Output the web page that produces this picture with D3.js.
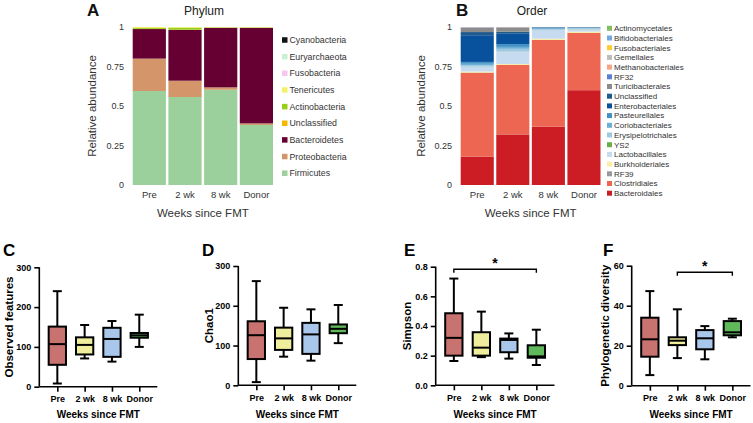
<!DOCTYPE html>
<html><head><meta charset="utf-8">
<script src="https://cdn.jsdelivr.net/npm/d3@7"></script>
<style>
html,body{margin:0;padding:0;background:#fff;}
svg text{font-family:"Liberation Sans",Arial,sans-serif;}
</style></head>
<body><svg id="c" width="753" height="423"></svg>
<script>
// ---------- DATA ----------
const groups = ["Pre", "2 wk", "8 wk", "Donor"];

// Phylum (bottom to top)
const phylumKeys = ["Firmicutes","Proteobacteria","Bacteroidetes","Unclassified","Actinobacteria","Tenericutes","Fusobacteria","Euryarchaeota","Cyanobacteria"];
const phylumColors = ["#9bcf9b","#d4956a","#660033","#f5b800","#9acd1a","#f2f26a","#f7c6ee","#c9f0d2","#111111"];
const phylumPre   = [0.595, 0.205, 0.187, 0.001, 0.006, 0.006, 0, 0, 0];
const phylum2wk   = [0.557, 0.103, 0.322, 0.001, 0.013, 0.004, 0, 0, 0];
const phylum8wk   = [0.603, 0.015, 0.377, 0.001, 0.002, 0.002, 0, 0, 0];
const phylumDonor = [0.380, 0.010, 0.605, 0.001, 0.001, 0.003, 0, 0, 0];

// Order (bottom to top)
const orderKeys = ["Bacteroidales","Clostridiales","RF39","Burkholderiales","Lactobacillales","YS2","Erysipelotrichales","Coriobacteriales","Pasteurellales","Enterobacteriales","Unclassified","Turicibacterales","RF32","Methanobacteriales","Gemellales","Fusobacteriales","Bifidobacteriales","Actinomycetales"];
const orderColors = ["#cc1c24","#ec6651","#999999","#fbeea0","#c6dbef","#6aae45","#9ecae1","#6baed6","#4292c6","#08519c","#1f5a8c","#8c8c8c","#5b7fd6","#f4a582","#bdbdbd","#ffcc33","#74a9e0","#7fbf5f"];
const orderPre   = [0.180, 0.530, 0.002, 0.006, 0.030, 0.001, 0.010, 0.008, 0.012, 0.169, 0.020, 0.028, 0.001, 0.001, 0.001, 0, 0.001, 0];
const order2wk   = [0.320, 0.440, 0.001, 0.005, 0.077, 0.001, 0.018, 0.012, 0.018, 0.065, 0.013, 0.027, 0.001, 0.001, 0.001, 0, 0, 0];
const order8wk   = [0.369, 0.549, 0.001, 0.007, 0.055, 0.001, 0.005, 0.003, 0.004, 0.003, 0.001, 0.001, 0, 0, 0, 0, 0, 0];
const orderDonor = [0.600, 0.362, 0.001, 0.008, 0.015, 0.001, 0.004, 0.003, 0.003, 0.001, 0.001, 0.001, 0, 0, 0, 0, 0, 0];

const stackTicks = [0, 0.25, 0.5, 0.75, 1];
const stackTickLabels = ["0", "0.25", "0.5", "0.75", "1"];

// Box plot stats: [min, q1, median, q3, max] per group
const observedFeatures = [[8,55,107,151,240],[71,81,105,124,155],[63,75,120,148,165],[100,123,129,135,181]];
const chao1 = [[8,66,126,161,262],[72,89,118,145,195],[62,79,128,157,191],[106,131,142,153,202]];
const simpson = [[0.164,0.20,0.32,0.486,0.72],[0.19,0.20,0.254,0.358,0.497],[0.18,0.223,0.306,0.315,0.35],[0.137,0.186,0.195,0.27,0.375]];
const phyloDiv = [[5.3,14.5,23.2,34,47.3],[13.8,20.3,22.5,24.2,38.2],[13.2,18.2,23.7,27.8,29.8],[24.2,25.2,26.7,32.3,33.5]];
const boxColors = ["#c87370","#eeee9c","#a9c7eb","#5fb85a"];
const ticksCount = [0,100,200,300];
const ticksChao = [0,100,200,300];
const ticksSimpson = [0,0.2,0.4,0.6,0.8];
const ticksPD = [0,20,40,60];

// ---------- DRAW ----------
const svg = d3.select("#c");

function stackPanel(o){
  const rows = groups.map((g,i)=>{const r={group:g}; o.keys.forEach((k,j)=>r[k]=o.vals[i][j]); return r;});
  const series = d3.stack().keys(o.keys)(rows);
  const x = d3.scaleBand().domain(groups).range(o.xr).paddingInner(0.07).paddingOuter(0);
  const y = d3.scaleLinear().domain([0,1]).range([185,27]);
  const col = d3.scaleOrdinal().domain(o.keys).range(o.colors);
  const g = svg.append("g");
  g.selectAll("g.s").data(series).join("g").attr("fill",d=>col(d.key))
    .selectAll("rect").data(d=>d).join("rect")
    .attr("x",d=>x(d.data.group)).attr("width",x.bandwidth())
    .attr("y",d=>y(d[1])).attr("height",d=>Math.max(0,y(d[0])-y(d[1])));
  // y tick labels
  const ya = d3.axisLeft(y).tickValues(stackTicks).tickSize(0).tickPadding(0)
     .tickFormat((d,i)=>stackTickLabels[i]);
  const yg = g.append("g").attr("transform",`translate(${o.yLabX},0)`).call(ya);
  yg.select(".domain").remove();
  yg.selectAll("text").attr("font-size",9).attr("fill","#333");
  // x tick labels
  const xa = d3.axisBottom(x).tickSize(0).tickPadding(0);
  const xg = g.append("g").attr("transform","translate(0,191)").call(xa);
  xg.select(".domain").remove();
  xg.selectAll("text").attr("font-size",9.5).attr("fill","#333");
  // titles
  g.append("text").attr("x",o.titleX).attr("y",15).attr("text-anchor","middle").attr("font-size",12).attr("fill","#222").text(o.title);
  g.append("text").attr("x",o.letterX).attr("y",16).attr("font-size",17).attr("font-weight","bold").attr("fill","#111").text(o.letter);
  g.append("text").attr("transform",`translate(${o.yTitleX},106) rotate(-90)`).attr("text-anchor","middle").attr("font-size",11.5).attr("fill","#333").text("Relative abundance");
  g.append("text").attr("x",(o.xr[0]+o.xr[1])/2).attr("y",217).attr("text-anchor","middle").attr("font-size",11.5).attr("fill","#333").text("Weeks since FMT");
  // legend (top to bottom is reversed stack order)
  const lk = o.keys.slice().reverse();
  const lg = g.append("g");
  lk.forEach((k,i)=>{
    const yy = o.legY0 + i*o.legStep;
    lg.append("rect").attr("x",o.legX).attr("y",yy-o.sq/2).attr("width",o.sq).attr("height",o.sq).attr("fill",col(k));
    lg.append("text").attr("x",o.legX+o.sq+2).attr("y",yy).attr("dy","0.35em").attr("font-size",o.legFont).attr("fill","#333").text(k);
  });
}

stackPanel({keys:phylumKeys, colors:phylumColors, vals:[phylumPre,phylum2wk,phylum8wk,phylumDonor],
  xr:[132.7,273], yLabX:124, title:"Phylum", titleX:204, letter:"A", letterX:87, yTitleX:96,
  legX:282, legY0:40, legStep:16.65, sq:5.5, legFont:8.8});
stackPanel({keys:orderKeys, colors:orderColors, vals:[orderPre,order2wk,order8wk,orderDonor],
  xr:[460.7,600.5], yLabX:452, title:"Order", titleX:532, letter:"B", letterX:456, yTitleX:425,
  legX:607, legY0:28.3, legStep:9.7, sq:5, legFont:8});

function boxPanel(o){
  const g = svg.append("g");
  const x = d3.scalePoint().domain(groups).range(o.xr).padding(0.66);
  const y = d3.scaleLinear().domain([o.ticks[0],o.ticks[o.ticks.length-1]]).range(o.yr);
  const ya = d3.axisLeft(y).tickValues(o.ticks).tickSize(5).tickPadding(3).tickFormat(o.fmt);
  const yg = g.append("g").attr("transform",`translate(${o.xr[0]},0)`).call(ya);
  const xa = d3.axisBottom(x).tickSize(5).tickPadding(4);
  const xg = g.append("g").attr("transform",`translate(0,${o.yr[0]})`).call(xa);
  [yg,xg].forEach(a=>{
    a.selectAll("path,line").attr("stroke","#000").attr("stroke-width",1.6);
    a.selectAll("text").attr("font-size",9).attr("font-weight","bold").attr("fill","#000");
  });
  xg.select(".domain").attr("d",`M${o.xr[0]},0H${o.xr[1]}`);
  yg.select(".domain").attr("d",`M0,${o.yr[0]}V${o.yr[1]}`);
  const bw = 17.3, cw = 9;
  o.data.forEach((s,i)=>{
    const cx = x(groups[i]);
    const b = g.append("g").attr("stroke","#000").attr("stroke-width",2);
    b.append("line").attr("x1",cx).attr("x2",cx).attr("y1",y(s[0])).attr("y2",y(s[1]));
    b.append("line").attr("x1",cx).attr("x2",cx).attr("y1",y(s[3])).attr("y2",y(s[4]));
    b.append("line").attr("x1",cx-cw/2).attr("x2",cx+cw/2).attr("y1",y(s[0])).attr("y2",y(s[0]));
    b.append("line").attr("x1",cx-cw/2).attr("x2",cx+cw/2).attr("y1",y(s[4])).attr("y2",y(s[4]));
    b.append("rect").attr("x",cx-bw/2).attr("width",bw).attr("y",y(s[3])).attr("height",y(s[1])-y(s[3])).attr("fill",boxColors[i]);
    b.append("line").attr("x1",cx-bw/2).attr("x2",cx+bw/2).attr("y1",y(s[2])).attr("y2",y(s[2]));
  });
  g.append("text").attr("x",o.letterX).attr("y",255.5).attr("font-size",17).attr("font-weight","bold").attr("fill","#000").text(o.letter);
  g.append("text").attr("transform",`translate(${o.yTitleX},${(o.yr[0]+o.yr[1])/2}) rotate(-90)`).attr("text-anchor","middle")
    .attr("font-size",11.5).attr("font-weight","bold").attr("fill","#000").text(o.yTitle);
  const mid = (x(groups[0])+x(groups[3]))/2;
  g.append("text").attr("x",mid).attr("y",418).attr("text-anchor","middle").attr("font-size",10).attr("font-weight","bold").attr("fill","#000").text("Weeks since FMT");
  if(o.sig){
    const x1 = x(o.sig[0]), x2 = x(o.sig[1]), by = o.sigY;
    g.append("path").attr("d",`M${x1},${by+3.5}V${by}H${x2}V${by+3.5}`).attr("fill","none").attr("stroke","#000").attr("stroke-width",1.4);
    g.append("text").attr("x",(x1+x2)/2).attr("y",by-1).attr("text-anchor","middle").attr("font-size",14).attr("font-weight","bold").attr("fill","#000").text("*");
  }
}

boxPanel({data:observedFeatures, ticks:ticksCount, fmt:d3.format("d"), xr:[39.3,157.3], yr:[386.7,267.3], letter:"C", letterX:3, yTitle:"Observed features", yTitleX:12.5});
boxPanel({data:chao1, ticks:ticksChao, fmt:d3.format("d"), xr:[238.3,356.3], yr:[385.3,266], letter:"D", letterX:202, yTitle:"Chao1", yTitleX:213});
boxPanel({data:simpson, ticks:ticksSimpson, fmt:d3.format(".1f"), xr:[435.7,554.5], yr:[385.3,266.7], letter:"E", letterX:404, yTitle:"Simpson", yTitleX:411, sig:["Pre","Donor"], sigY:269.3});
boxPanel({data:phyloDiv, ticks:ticksPD, fmt:d3.format("d"), xr:[631.7,750.5], yr:[385.7,265.7], letter:"F", letterX:603, yTitle:"Phylogenetic diversity", yTitleX:609, sig:["2 wk","Donor"], sigY:272.3});
</script></body></html>
